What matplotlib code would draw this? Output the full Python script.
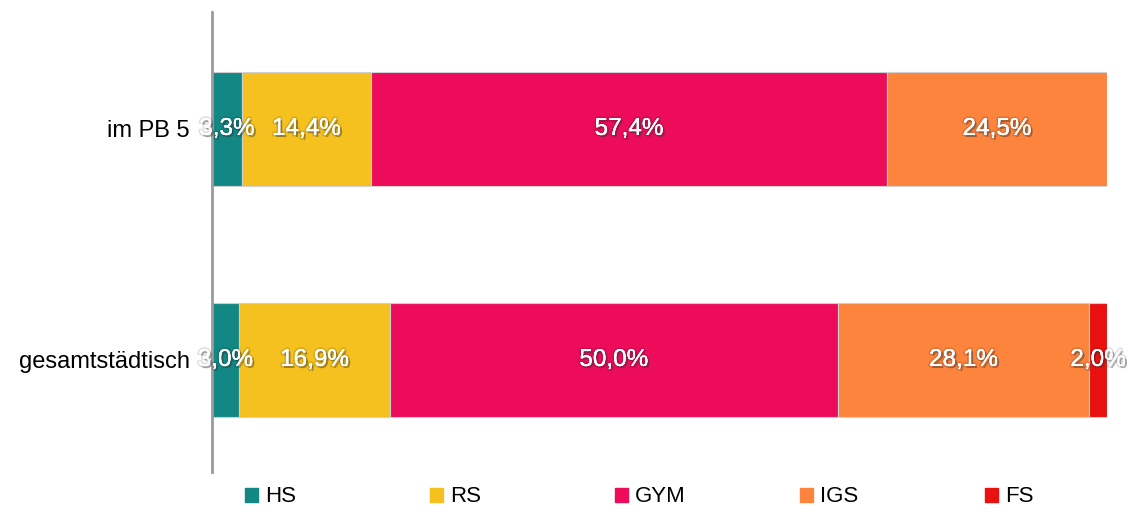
import matplotlib.pyplot as plt
import matplotlib.patheffects as pe
from matplotlib.patches import Patch

plt.rcParams['font.family'] = ['Liberation Sans', 'DejaVu Sans']

kategorien = ['gesamtstädtisch', 'im PB 5']
schulformen = ['HS', 'RS', 'GYM', 'IGS', 'FS']
farben = ['#138784', '#F5C11F', '#EC0C5A', '#FD843D', '#E8110F']

werte_gesamt = [3.0, 16.9, 50.0, 28.1, 2.0]
werte_pb5 = [3.3, 14.4, 57.4, 24.5, 0.0]
reihen = [werte_gesamt, werte_pb5]

fig = plt.figure(figsize=(11.32, 5.12), dpi=100)
ax = fig.add_axes([212 / 1132, 40 / 512, 895 / 1132, 460 / 512])

schatten = [pe.withStroke(linewidth=2.5, foreground=(0, 0, 0, 0.12)),
            pe.withSimplePatchShadow(offset=(1.5, -1.5), shadow_rgbFace='#333333', alpha=0.4),
            pe.Normal()]

for y, werte in enumerate(reihen):
    summe = sum(werte)
    links = 0
    for i, w in enumerate(werte):
        if w <= 0:
            continue
        breite = w / summe * 100
        ax.barh(y, breite, left=links, height=0.494, color=farben[i],
                edgecolor='#d0d0d0', linewidth=0.8)
        ax.text(links + breite / 2, y, f'{w:.1f}%'.replace('.', ','),
                ha='center', va='center', color='white', fontsize=17.5,
                path_effects=schatten)
        links += breite

ax.set_xlim(0, 100)
ax.set_ylim(-0.485, 1.506)
ax.set_yticks(range(len(kategorien)))
ax.set_yticklabels(kategorien, fontsize=17)
ax.tick_params(axis='y', length=0, pad=16)
ax.set_xticks([])
for s in ['top', 'right', 'bottom']:
    ax.spines[s].set_visible(False)
ax.spines['left'].set_color('#9a9a9a')
ax.spines['left'].set_linewidth(2)

for k, (c, l) in enumerate(zip(farben, schulformen)):
    fig.legend(handles=[Patch(color=c, label=l)], loc='center left',
               bbox_to_anchor=((245 + 185 * k) / 1132, 1 - 497 / 512),
               frameon=False, fontsize=16, handlelength=0.6, handleheight=0.6,
               handletextpad=0.3, borderpad=0, borderaxespad=0)

fig.savefig('out.png', dpi=100)
